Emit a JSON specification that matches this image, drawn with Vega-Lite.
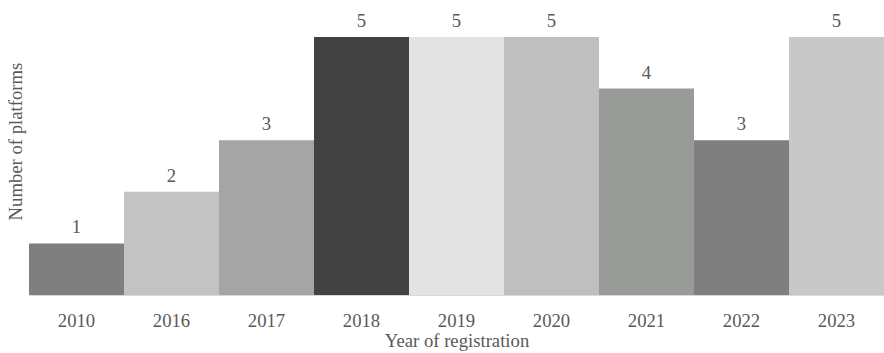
{
  "$schema": "https://vega.github.io/schema/vega-lite/v6.json",
  "autosize": {"type": "none"},
  "width": 855,
  "height": 258,
  "padding": {"left": 29, "top": 37, "right": 0, "bottom": 58},
  "config": {
    "view": {"stroke": null},
    "font": "Liberation Serif"
  },
  "data": {
    "values": [
      {"year": "2010", "platforms": 1, "shade": "#7f7f7f"},
      {"year": "2016", "platforms": 2, "shade": "#c3c3c3"},
      {"year": "2017", "platforms": 3, "shade": "#a5a5a5"},
      {"year": "2018", "platforms": 5, "shade": "#424242"},
      {"year": "2019", "platforms": 5, "shade": "#e3e3e3"},
      {"year": "2020", "platforms": 5, "shade": "#bfbfbf"},
      {"year": "2021", "platforms": 4, "shade": "#999b99"},
      {"year": "2022", "platforms": 3, "shade": "#7f7f7f"},
      {"year": "2023", "platforms": 5, "shade": "#c8c8c8"}
    ]
  },
  "encoding": {
    "x": {
      "field": "year",
      "type": "ordinal",
      "scale": {"paddingInner": 0, "paddingOuter": 0},
      "axis": {
        "title": "Year of registration",
        "labelAngle": 0,
        "ticks": false,
        "domain": true,
        "domainColor": "#d9d9d9",
        "domainWidth": 1,
        "labelFont": "Liberation Serif",
        "labelFontSize": 18.7,
        "labelColor": "#595959",
        "labelPadding": 16,
        "titleFont": "Liberation Serif",
        "titleFontSize": 18.7,
        "titleFontWeight": "normal",
        "titleColor": "#595959",
        "titlePadding": 2
      }
    },
    "y": {
      "field": "platforms",
      "type": "quantitative",
      "scale": {"domain": [0, 5]},
      "axis": {
        "title": "Number of platforms",
        "labels": false,
        "ticks": false,
        "domain": false,
        "grid": false,
        "titleFont": "Liberation Serif",
        "titleFontSize": 18.7,
        "titleFontWeight": "normal",
        "titleColor": "#595959",
        "titleX": -4,
        "titleY": 104,
        "titleAnchor": "middle"
      }
    }
  },
  "layer": [
    {
      "mark": {"type": "bar"},
      "encoding": {
        "color": {"field": "shade", "type": "nominal", "scale": null}
      }
    },
    {
      "mark": {
        "type": "text",
        "baseline": "bottom",
        "dy": -6,
        "fontSize": 18.7,
        "font": "Liberation Serif",
        "color": "#595959"
      },
      "encoding": {
        "text": {"field": "platforms", "type": "quantitative"}
      }
    }
  ]
}
